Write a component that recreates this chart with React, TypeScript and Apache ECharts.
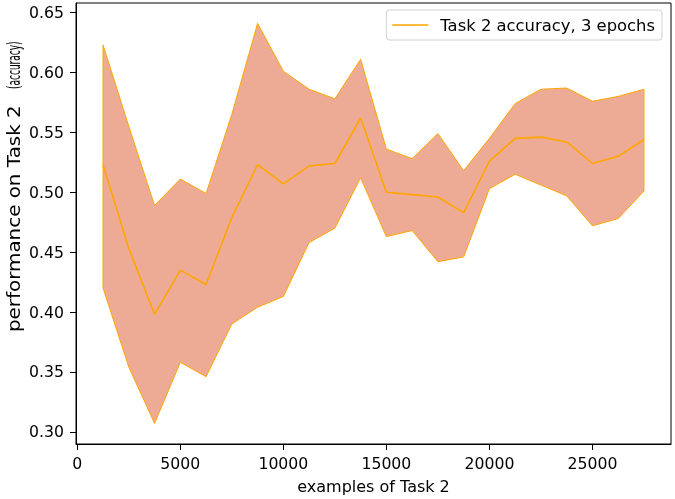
import React, { useEffect, useRef } from "react";
import * as echarts from "echarts";

const xValues = [1250, 2500, 3750, 5000, 6250, 7500, 8750, 10000, 11250, 12500, 13750, 15000, 16250, 17500, 18750, 20000, 21250, 22500, 23750, 25000, 26250, 27500];
const meanAcc = [0.523, 0.453, 0.398, 0.435, 0.423, 0.479, 0.523, 0.507, 0.522, 0.524, 0.562, 0.500, 0.498, 0.496, 0.483, 0.526, 0.545, 0.546, 0.542, 0.524, 0.530, 0.544];
const upperAcc = [0.623, 0.555, 0.489, 0.511, 0.499, 0.565, 0.641, 0.601, 0.586, 0.578, 0.611, 0.536, 0.528, 0.549, 0.518, 0.545, 0.574, 0.586, 0.587, 0.576, 0.580, 0.586];
const lowerAcc = [0.420, 0.354, 0.307, 0.358, 0.346, 0.390, 0.404, 0.413, 0.458, 0.470, 0.512, 0.463, 0.468, 0.442, 0.446, 0.503, 0.515, 0.506, 0.497, 0.472, 0.478, 0.501];
const xTicks = [0, 5000, 10000, 15000, 20000, 25000];
const yTicks = [0.3, 0.35, 0.4, 0.45, 0.5, 0.55, 0.6, 0.65];
const seriesName = "Task 2 accuracy, 3 epochs";
const xTitle = "examples of Task 2";
const yTitleMain = "performance on Task 2";
const yTitleUnit = "(accuracy)";

const FONT = "DejaVu Sans";
const X_MIN = -62.5;
const X_MAX = 28812.5;
const Y_MIN = 0.2898;
const Y_MAX = 0.658;

export default function App() {
  const ref = useRef<HTMLDivElement>(null);
  useEffect(() => {
    if (!ref.current) return;
    const chart = echarts.init(ref.current, null, { renderer: "svg" });
    const bandData = xValues.map((x, i) => [x, lowerAcc[i], upperAcc[i]]);
    chart.setOption({
      animation: false,
      textStyle: { fontFamily: FONT },
      grid: {
        left: 76,
        right: 4,
        top: 3,
        bottom: 54,
        show: true,
        borderColor: "#000",
        borderWidth: 1,
        backgroundColor: "rgba(0,0,0,0)",
        z: 5,
      },
      legend: {
        right: 13,
        top: 10,
        data: [{ name: seriesName, icon: "rect" }],
        itemWidth: 36,
        itemHeight: 1.5,
        padding: [7, 7, 7, 6],
        borderColor: "#d0d0d0",
        borderWidth: 1,
        borderRadius: 3,
        backgroundColor: "#fff",
        textStyle: { fontFamily: FONT, fontSize: 16.4, color: "#000", padding: [0, 0, 0, 7] },
      },
      graphic: [
        {
          type: "group",
          x: 14,
          y: 332,
          rotation: Math.PI / 2,
          children: [
            {
              type: "text",
              x: 0,
              y: 0,
              scaleX: 1.17,
              style: {
                text: yTitleMain,
                fontFamily: FONT,
                fontSize: 17,
                fill: "#000",
                align: "left",
                verticalAlign: "middle",
              },
            },
            {
              type: "text",
              x: 243,
              y: 0,
              scaleX: 0.5,
              style: {
                text: yTitleUnit,
                fontFamily: FONT,
                fontSize: 18,
                fill: "#000",
                align: "left",
                verticalAlign: "middle",
              },
            },
          ],
        },
      ],
      xAxis: {
        type: "value",
        min: X_MIN,
        max: X_MAX,
        name: xTitle,
        nameLocation: "middle",
        nameGap: 34,
        nameTextStyle: { fontFamily: FONT, fontSize: 16, color: "#000" },
        axisLine: { show: true, onZero: false, lineStyle: { color: "#000", width: 1 } },
        axisTick: { show: true, length: 6, customValues: xTicks, lineStyle: { color: "#000" } },
        axisLabel: {
          customValues: xTicks,
          margin: 11,
          fontSize: 15.7,
          color: "#000",
          fontFamily: FONT,
          formatter: (v: number) => String(v),
        },
        splitLine: { show: false },
      },
      yAxis: {
        type: "value",
        min: Y_MIN,
        max: Y_MAX,
        axisLine: { show: true, onZero: false, lineStyle: { color: "#000", width: 1 } },
        axisTick: { show: true, length: 6, customValues: yTicks, lineStyle: { color: "#000" } },
        axisLabel: {
          customValues: yTicks,
          margin: 12,
          fontSize: 15.7,
          color: "#000",
          fontFamily: FONT,
          formatter: (v: number) => v.toFixed(2),
        },
        splitLine: { show: false },
      },
      series: [
        {
          type: "custom",
          name: "band",
          data: bandData,
          encode: { x: 0, y: [1, 2] },
          renderItem: (params: any, api: any) => {
            if (params.dataIndex !== 0) return null;
            const pts: number[][] = [];
            for (let i = 0; i < xValues.length; i++) pts.push(api.coord([xValues[i], upperAcc[i]]));
            for (let i = xValues.length - 1; i >= 0; i--) pts.push(api.coord([xValues[i], lowerAcc[i]]));
            return {
              type: "polygon",
              shape: { points: pts },
              style: { fill: "rgba(233,150,122,0.8)", stroke: "#FFA500", lineWidth: 1 },
            };
          },
          silent: true,
          z: 1,
        },
        {
          type: "line",
          name: seriesName,
          data: xValues.map((x, i) => [x, meanAcc[i]]),
          symbol: "none",
          lineStyle: { color: "#FFA500", width: 1.6 },
          itemStyle: { color: "#FFA500" },
          z: 3,
        },
      ],
    });
    return () => chart.dispose();
  }, []);
  return (
    <div
      ref={ref}
      style={{ position: "fixed", left: 0, top: 0, width: 675, height: 499 }}
    />
  );
}
